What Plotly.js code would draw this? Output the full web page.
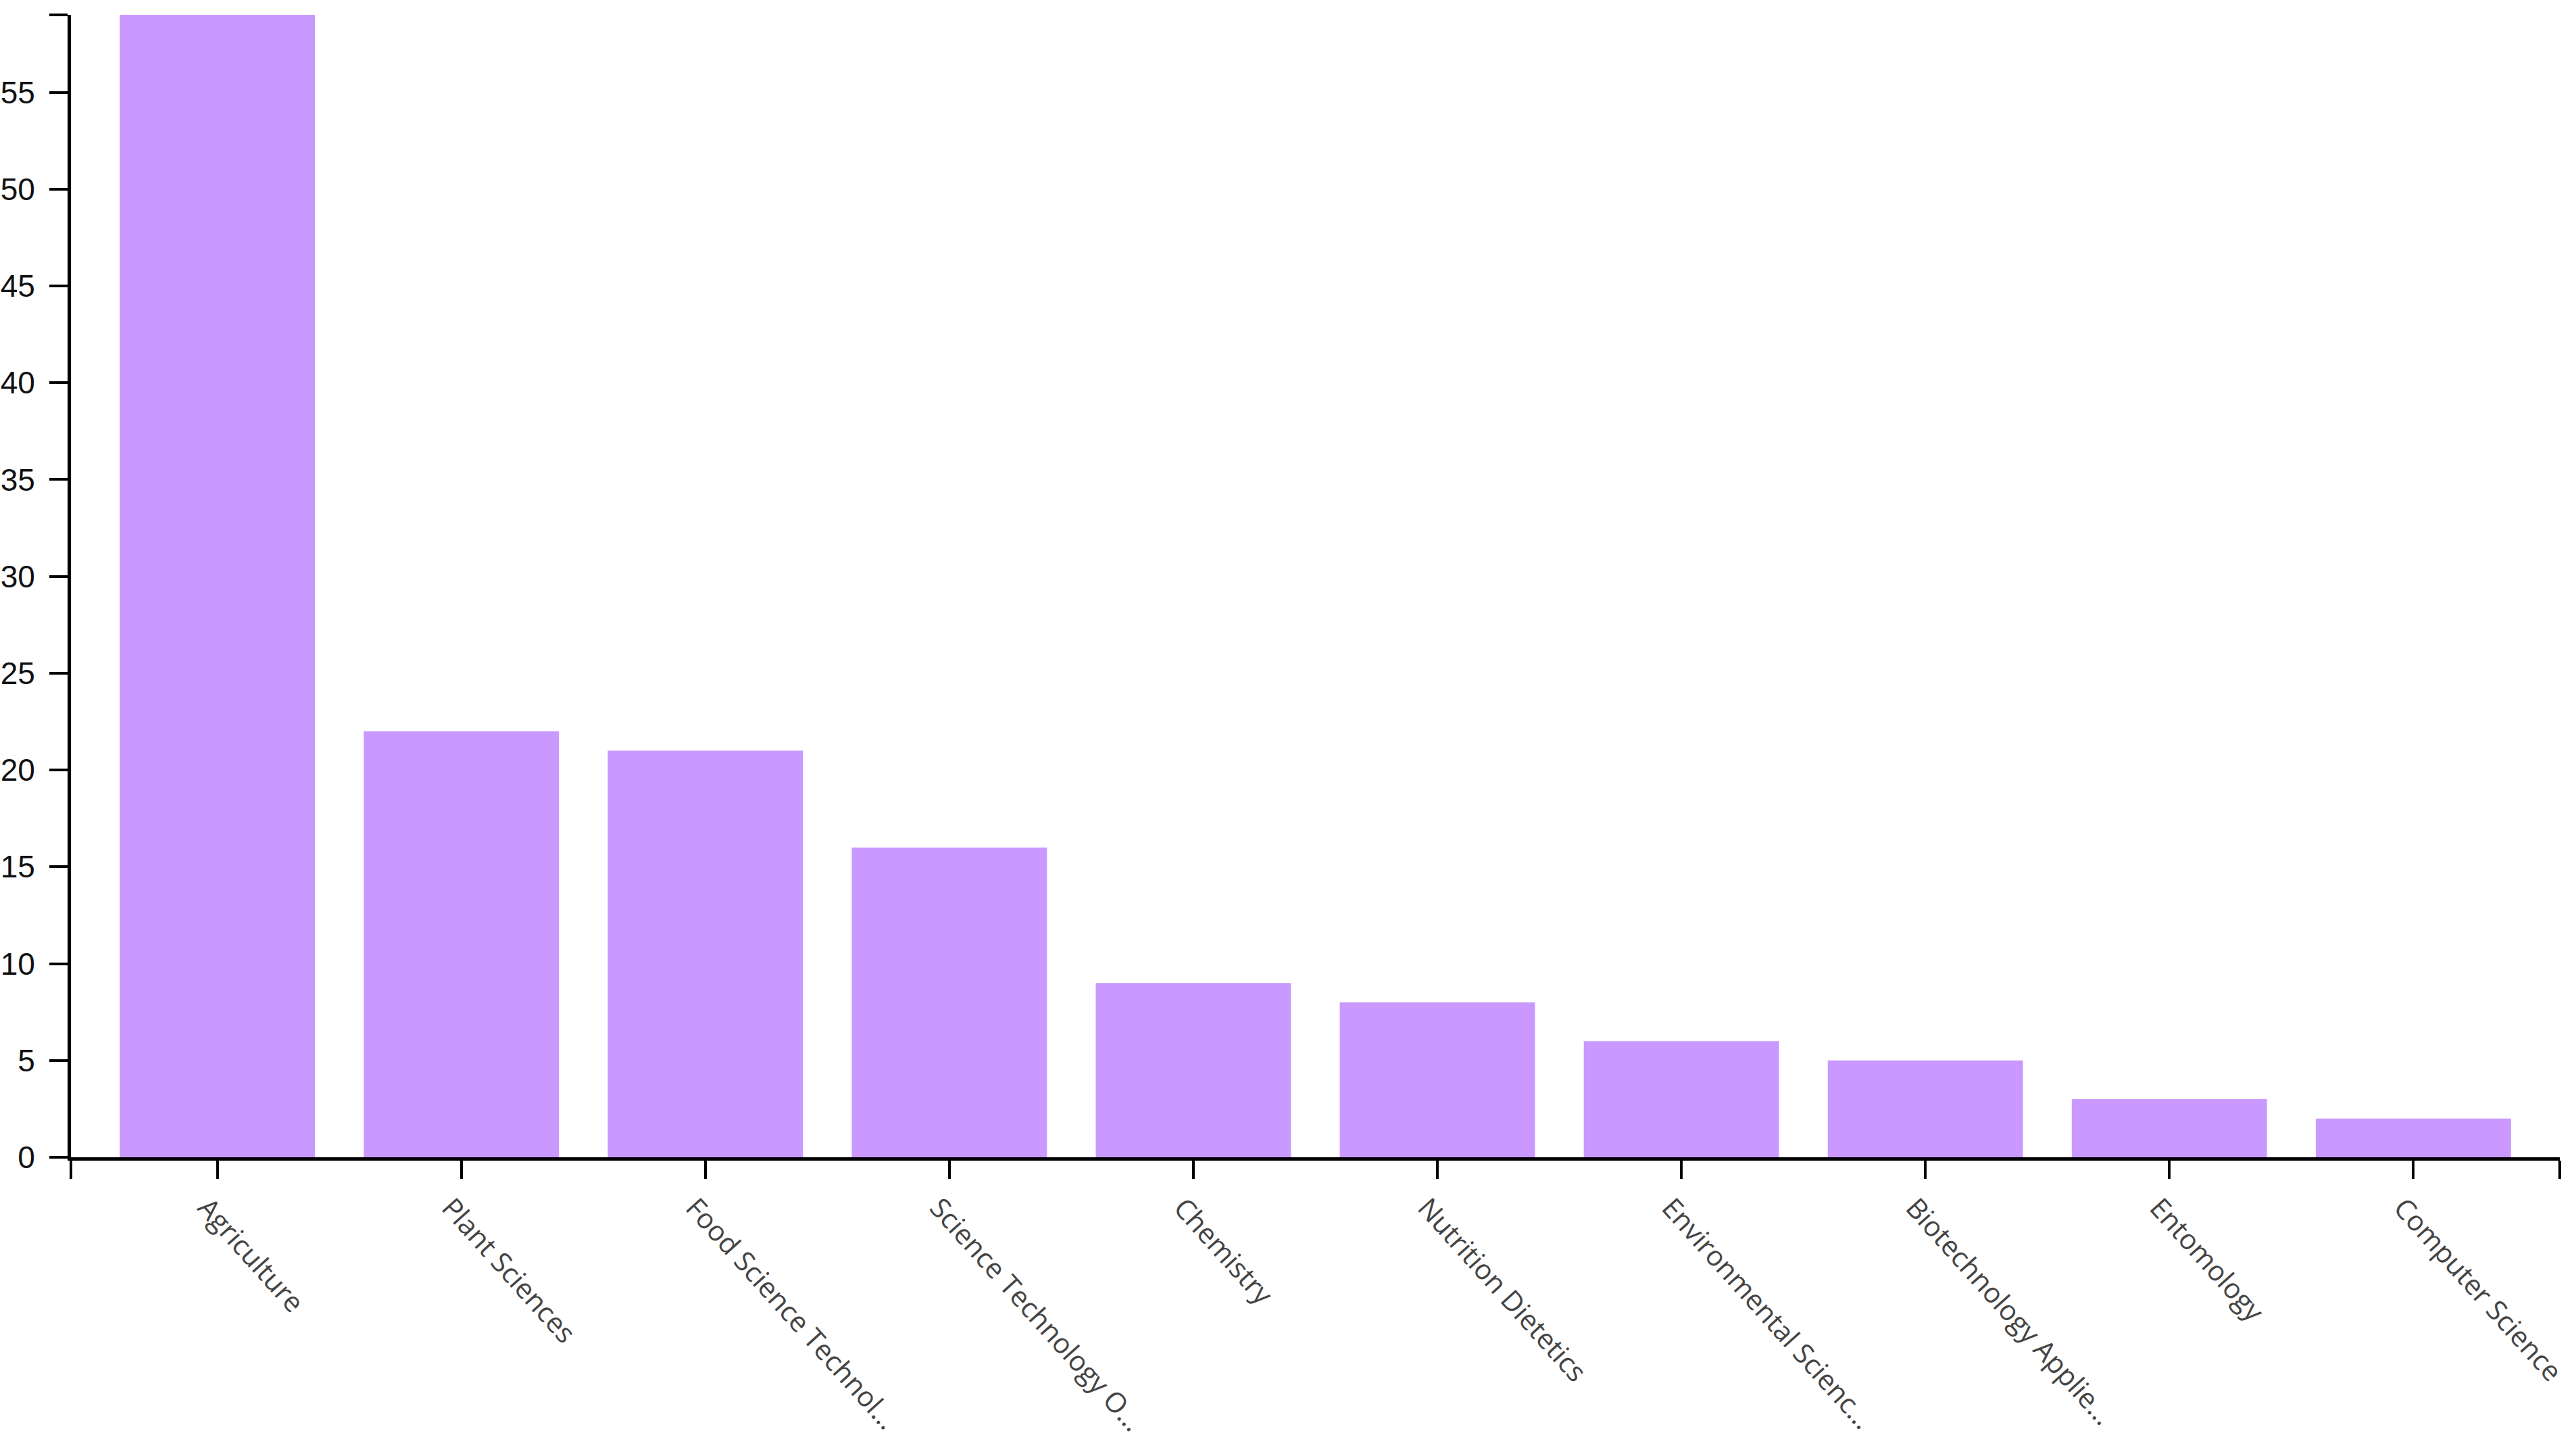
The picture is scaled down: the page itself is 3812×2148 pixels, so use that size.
<!DOCTYPE html>
<html>
<head>
<meta charset="utf-8">
<script src="https://cdn.plot.ly/plotly-3.0.1.min.js"></script>
<style>
  html, body { margin: 0; padding: 0; background: #fff; }
  #chart { width: 3812px; height: 2148px; }
</style>
</head>
<body>
<div id="chart"></div>
<script>
// subject areas, record counts
var categories = ['Agriculture', 'Plant Sciences', 'Food Science Technol…', 'Science Technology O…',
  'Chemistry', 'Nutrition Dietetics', 'Environmental Scienc…', 'Biotechnology Applie…',
  'Entomology', 'Computer Science'];
var counts = [59, 22, 21, 16, 9, 8, 6, 5, 3, 2];
var y_ticks = [0, 5, 10, 15, 20, 25, 30, 35, 40, 45, 50, 55];
var y_max = 59;

var positions = [];
for (var i = 0; i < categories.length; i++) positions.push(i);

// d3-like outer ticks at both ends of each axis
var x_tickvals = [-0.6].concat(positions, [categories.length - 0.4]);
var x_ticktext = [''].concat(categories, ['']);
var y_tickvals = y_ticks.concat([y_max]);
var y_ticktext = y_ticks.map(String).concat(['']);

var trace = {
  x: positions,
  y: counts,
  type: 'bar',
  marker: { color: '#c999ff' },
  hoverinfo: 'x+y'
};

var layout = {
  width: 3812,
  height: 2148,
  paper_bgcolor: '#ffffff',
  plot_bgcolor: '#ffffff',
  showlegend: false,
  bargap: 0.2,
  margin: { l: 105, r: 24, t: 22, b: 436, pad: 0 },
  xaxis: {
    range: [-0.6, categories.length - 0.4],
    tickmode: 'array',
    tickvals: x_tickvals,
    ticktext: x_ticktext,
    tickangle: 48,
    ticks: 'outside',
    ticklen: 27,
    tickwidth: 4,
    tickcolor: '#000',
    showline: true,
    linecolor: '#000',
    linewidth: 5,
    showgrid: false,
    zeroline: false,
    ticklabelstandoff: 2,
    ticklabelshift: -16,
    ticklabeloverflow: 'allow',
    tickfont: { family: 'Open Sans', size: 41, color: '#444' }
  },
  yaxis: {
    range: [0, y_max],
    tickmode: 'array',
    tickvals: y_tickvals,
    ticktext: y_ticktext,
    ticks: 'outside',
    ticklen: 27,
    tickwidth: 4,
    tickcolor: '#000',
    showline: true,
    linecolor: '#000',
    linewidth: 5,
    showgrid: false,
    zeroline: false,
    ticklabelstandoff: 12,
    tickfont: { family: 'Liberation Sans', size: 46, color: '#111' }
  }
};

Plotly.newPlot('chart', [trace], layout, { displayModeBar: false, staticPlot: true });
</script>
</body>
</html>
